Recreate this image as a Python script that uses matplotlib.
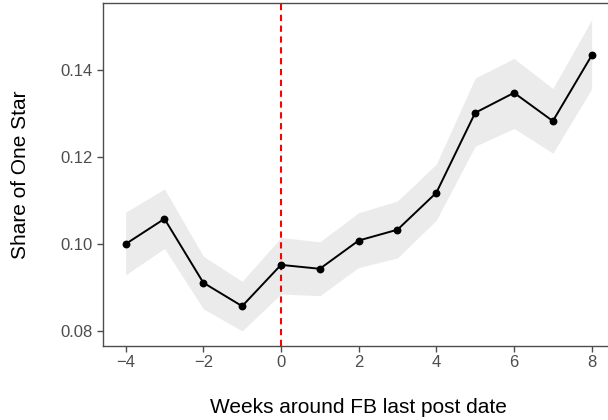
import numpy as np
import matplotlib
matplotlib.use('Agg')
import matplotlib.pyplot as plt

plt.rcParams['font.family'] = ['Liberation Sans', 'DejaVu Sans']

# weeks relative to last FB post
weeks = [-4, -3, -2, -1, 0, 1, 2, 3, 4, 5, 6, 7, 8]
share = [0.1000, 0.1058, 0.0911, 0.0857, 0.0952, 0.0943, 0.1008,
         0.1033, 0.1118, 0.1302, 0.1348, 0.1283, 0.1434]
upper = [0.1073, 0.1127, 0.0972, 0.0914, 0.1015, 0.1005, 0.1072,
         0.1099, 0.1184, 0.1382, 0.1427, 0.1358, 0.1516]
lower = [0.0929, 0.0990, 0.0851, 0.0800, 0.0885, 0.0881, 0.0946,
         0.0968, 0.1055, 0.1225, 0.1266, 0.1209, 0.1357]
xticks = [-4, -2, 0, 2, 4, 6, 8]
xlabels = ['\u22124', '\u22122', '0', '2', '4', '6', '8']
yticks = [0.08, 0.10, 0.12, 0.14]

W, H = 608, 420
fig = plt.figure(figsize=(W / 100, H / 100), dpi=100)
# panel runs slightly past the right edge (cropped original)
ax = fig.add_axes([102.7 / W, (H - 345.7) / H, (615 - 102.7) / W, (345.7 - 3.3) / H])

ax.fill_between(weeks, lower, upper, color='#EBEBEB', lw=0, zorder=1)
ax.axvline(0, color='red', ls=(0, (3, 2.2)), lw=1.5, zorder=2)
ax.plot(weeks, share, color='black', lw=1.4, zorder=3)
ax.scatter(weeks, share, s=32, color='black', zorder=4, lw=0)

ax.set_xlim(-4.59, 8.6)
ax.set_ylim(0.0766, 0.1554)
ax.set_xticks(xticks)
ax.set_xticklabels(xlabels)
ax.set_yticks(yticks)
ax.set_yticklabels(['0.08', '0.10', '0.12', '0.14'])

for s in ['left', 'bottom', 'top', 'right']:
    ax.spines[s].set_color('#4D4D4D')
    ax.spines[s].set_linewidth(1.0)
ax.tick_params(colors='#4D4D4D', labelcolor='#4D4D4D', labelsize=12, length=4, width=1.0, pad=3)

ax.set_xlabel('Weeks around FB last post date', fontsize=15, labelpad=20)
ax.set_ylabel('Share of One Star', fontsize=15, labelpad=22)

plt.savefig('out.png', dpi=100)
plt.close()
